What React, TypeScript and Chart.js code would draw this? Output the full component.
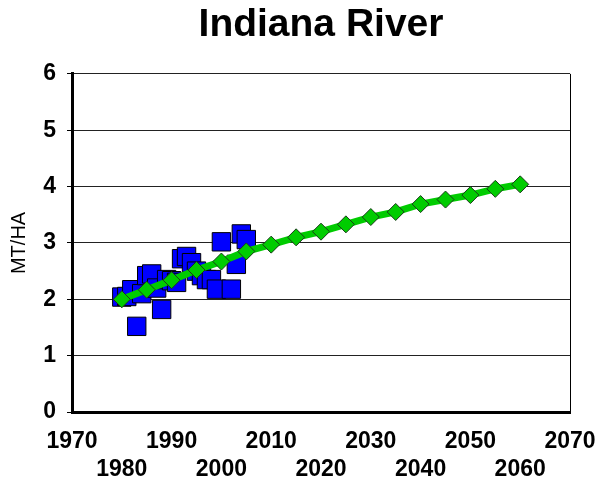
import React, { useEffect, useRef } from "react";
import { Chart, registerables } from "chart.js";

Chart.register(...registerables);

const titleText = "Indiana River";
const yAxisTitle = "MT/HA";

// Observed yields (blue squares)
const obsYears = [1980, 1981, 1982, 1983, 1984, 1985, 1986, 1987, 1988, 1989, 1990, 1991, 1992, 1993, 1994, 1995, 1996, 1997, 1998, 1999, 2000, 2002, 2003, 2004, 2005];
const obsValues = [2.04, 2.05, 2.17, 1.52, 2.1, 2.42, 2.45, 2.2, 1.82, 2.35, 2.33, 2.3, 2.72, 2.76, 2.65, 2.5, 2.42, 2.35, 2.35, 2.18, 3.02, 2.18, 2.62, 3.16, 3.06];

// Trend projection (green diamonds)
const trendYears = [1980, 1985, 1990, 1995, 2000, 2005, 2010, 2015, 2020, 2025, 2030, 2035, 2040, 2045, 2050, 2055, 2060];
const trendValues = [2.0, 2.17, 2.34, 2.52, 2.67, 2.85, 2.97, 3.1, 3.2, 3.33, 3.46, 3.55, 3.69, 3.77, 3.85, 3.96, 4.04];

const xMin = 1970;
const xMax = 2070;
const xStep = 10;
const yMin = 0;
const yMax = 6;
const yStep = 1;

export default function App() {
  const ref = useRef<HTMLCanvasElement | null>(null);

  useEffect(() => {
    if (!ref.current) return;
    Chart.defaults.font.family = "'Liberation Sans', Arial, sans-serif";
    const chart = new Chart(ref.current, {
      type: "scatter",
      data: {
        datasets: [
          {
            label: "Trend",
            data: trendYears.map((x, i) => ({ x, y: trendValues[i] })),
            showLine: true,
            borderColor: "#00cc00",
            borderWidth: 7,
            backgroundColor: "#00cc00",
            pointStyle: "rectRot",
            pointRadius: 8.5,
            pointBorderColor: "#1a3a1a",
            pointBorderWidth: 1,
            pointBackgroundColor: "#00cc00",
            order: 1,
          },
          {
            label: "Observed",
            data: obsYears.map((x, i) => ({ x, y: obsValues[i] })),
            showLine: false,
            pointStyle: "rect",
            pointRadius: 13,
            pointBackgroundColor: "#0000ff",
            pointBorderColor: "#000000",
            pointBorderWidth: 1,
            order: 2,
          },
        ],
      },
      options: {
        responsive: false,
        animation: false,
        layout: { padding: { left: 0, right: 32, top: 0, bottom: 0 } },
        plugins: {
          legend: { display: false },
          tooltip: { enabled: false },
          title: {
            display: true,
            text: titleText,
            fullSize: false,
            color: "#000",
            font: { size: 39, weight: "bold", lineHeight: 1.1 },
            padding: { top: 4, bottom: 27 },
          },
        },
        scales: {
          x: {
            type: "linear",
            min: xMin,
            max: xMax,
            afterFit: (s: any) => {
              s.height = 74;
              s.paddingLeft = 0;
              s.paddingRight = 0;
            },
            border: { display: true, color: "#000", width: 3 },
            grid: {
              drawTicks: false,
              color: (ctx: any) => (ctx.tick && ctx.tick.value === xMax ? "#000" : "rgba(0,0,0,0)"),
              lineWidth: 1,
            },
            ticks: {
              stepSize: xStep,
              autoSkip: false,
              maxRotation: 0,
              padding: 16,
              color: "#000",
              font: { size: 23, weight: "bold", lineHeight: 1.2 },
              callback: (value: any, index: number) =>
                index % 2 === 0 ? [String(value), ""] : ["", String(value)],
            },
          },
          y: {
            min: yMin,
            max: yMax,
            afterFit: (s: any) => {
              s.width = 72;
              s.paddingTop = 0;
              s.paddingBottom = 0;
            },
            border: { display: true, color: "#000", width: 3 },
            grid: {
              color: "#222",
              lineWidth: 1,
              tickLength: 5,
              tickColor: "#000",
            },
            ticks: {
              stepSize: yStep,
              padding: 11,
              color: "#000",
              font: { size: 23, weight: "bold" },
            },
            title: {
              display: true,
              text: yAxisTitle,
              color: "#000",
              font: { size: 20, weight: "normal" },
              padding: { top: 7, bottom: 4 },
            },
          },
        },
      },
    });
    return () => chart.destroy();
  }, []);

  return (
    <div style={{ position: "fixed", left: 0, top: 0, width: 602, height: 486, background: "#fff" }}>
      <canvas ref={ref} width={602} height={486} />
    </div>
  );
}
